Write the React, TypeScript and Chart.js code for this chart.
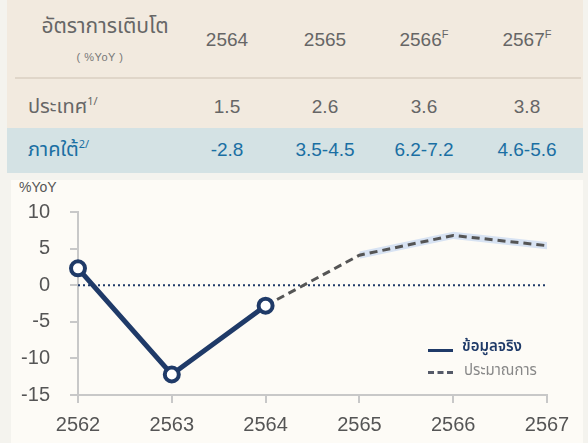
import React, { useEffect, useRef } from "react";
import { Chart, registerables } from "chart.js";

Chart.register(...registerables);

const years = ["2562", "2563", "2564", "2565", "2566", "2567"];
const actual = [2.3, -12.2, -2.8, null, null, null];
const forecast = [null, null, -2.8, 4.1, 6.8, 5.4];
const bandUpper = [null, null, null, 4.6, 7.3, 5.9];
const bandLower = [null, null, null, 3.6, 6.3, 4.9];
const zeroLine = [0, 0, 0, 0, 0, 0];
const yTicks = [10, 5, 0, -5, -10, -15];

const tableYears = ["2564", "2565", "2566", "2567"];
const tableForecastMark = [false, false, true, true];
const countryRow = ["1.5", "2.6", "3.6", "3.8"];
const southRow = ["-2.8", "3.5-4.5", "6.2-7.2", "4.6-5.6"];

const THAI = '"Noto Sans Thai", "Noto Sans Thai Looped", Loma, Garuda, "Liberation Sans", sans-serif';
const NUM = '"Liberation Sans", Arial, sans-serif';
const colX = [227, 325, 424, 527];

export default function App() {
  const ref = useRef<HTMLCanvasElement | null>(null);
  useEffect(() => {
    if (!ref.current) return;
    const chart = new Chart(ref.current, {
      type: "line",
      data: {
        labels: years,
        datasets: [
          {
            data: actual,
            borderColor: "#1f3a68",
            borderWidth: 5,
            pointRadius: 7,
            pointBorderWidth: 4,
            pointBackgroundColor: "#ffffff",
            pointBorderColor: "#1f3a68",
            fill: false,
            clip: false as any,
          },
          {
            data: forecast,
            borderColor: "#555555",
            borderWidth: 3,
            borderDash: [8, 5],
            pointRadius: 0,
            fill: false,
          },
          {
            data: zeroLine,
            borderColor: "#1f3a68",
            borderWidth: 2,
            borderDash: [2, 3],
            pointRadius: 0,
            fill: false,
          },
          {
            data: bandUpper,
            borderColor: "rgba(0,0,0,0)",
            backgroundColor: "#d8e3f3",
            pointRadius: 0,
            fill: "+1",
            borderWidth: 0,
          },
          {
            data: bandLower,
            borderColor: "rgba(0,0,0,0)",
            pointRadius: 0,
            fill: false,
            borderWidth: 0,
          },
        ],
      },
      options: {
        animation: false,
        responsive: false,
        maintainAspectRatio: false,
        layout: { padding: { left: 0, right: 41, top: 212, bottom: 0 } },
        plugins: { legend: { display: false }, tooltip: { enabled: false } },
        elements: { line: { tension: 0 } },
        scales: {
          x: {
            type: "category",
            offset: false,
            grid: { drawOnChartArea: false, drawTicks: true, tickLength: 8, color: "#c8c8c8", lineWidth: 2 },
            border: { color: "#c8c8c8", width: 2 },
            ticks: { color: "#555555", font: { family: NUM, size: 20 }, padding: 10 },
            afterFit: (s: any) => { s.height = 48; },
          },
          y: {
            min: -15,
            max: 10,
            afterBuildTicks: (s: any) => { s.ticks = yTicks.map((v) => ({ value: v })); },
            grid: { drawOnChartArea: false, drawTicks: true, tickLength: 8, color: "#c8c8c8", lineWidth: 2 },
            border: { color: "#c8c8c8", width: 2 },
            ticks: { color: "#555555", font: { family: NUM, size: 20 }, padding: 20 },
            afterFit: (s: any) => { s.width = 78; },
          },
        },
      },
    });
    return () => chart.destroy();
  }, []);

  const abs = (o: any): React.CSSProperties => ({ position: "absolute", ...o });

  return (
    <div style={abs({ left: 0, top: 0, width: 588, height: 443, background: "#f4f3ee", overflow: "hidden" })}>
      <div style={abs({ left: 7, top: 0, width: 576, height: 128, background: "#f2eadf" })} />
      <div style={abs({ left: 15, top: 77, width: 566, height: 2, background: "#e0d6c9" })} />
      <div style={abs({ left: 7, top: 128, width: 576, height: 45, background: "#d4e2e4" })} />
      <div style={abs({ left: 11, top: 180, width: 572, height: 263, background: "#fdfbf6" })} />

      <div style={abs({ left: 15, top: 13, width: 180, textAlign: "center", fontFamily: THAI, fontSize: 21, color: "#666", lineHeight: "28px" })}>อัตราการเติบโต</div>
      <div style={abs({ left: 40, top: 49, width: 120, textAlign: "center", fontFamily: NUM, fontSize: 11, color: "#777", lineHeight: "16px", letterSpacing: 0.5 })}>( %YoY )</div>
      {tableYears.map((y, i) => (
        <div key={y} style={abs({ left: colX[i] - 50, top: 28, width: 100, textAlign: "center", fontFamily: NUM, fontSize: 19, color: "#666", lineHeight: "24px" })}>
          {y}
          {tableForecastMark[i] ? <sup style={{ fontSize: 11, verticalAlign: 8, lineHeight: 0 }}>F</sup> : null}
        </div>
      ))}

      <div style={abs({ left: 28, top: 93, fontFamily: THAI, fontSize: 20, color: "#666", lineHeight: "28px" })}>
        ประเทศ<sup style={{ fontSize: 11, verticalAlign: 8, lineHeight: 0 }}>1/</sup>
      </div>
      {countryRow.map((v, i) => (
        <div key={"c" + i} style={abs({ left: colX[i] - 50, top: 95, width: 100, textAlign: "center", fontFamily: NUM, fontSize: 19, color: "#666", lineHeight: "24px" })}>{v}</div>
      ))}

      <div style={abs({ left: 28, top: 136, fontFamily: THAI, fontSize: 20, color: "#1a6fa3", lineHeight: "28px" })}>
        ภาคใต้<sup style={{ fontSize: 11, verticalAlign: 8, lineHeight: 0 }}>2/</sup>
      </div>
      {southRow.map((v, i) => (
        <div key={"s" + i} style={abs({ left: colX[i] - 60, top: 138, width: 120, textAlign: "center", fontFamily: NUM, fontSize: 19, color: "#1a6fa3", lineHeight: "24px" })}>{v}</div>
      ))}

      <div style={abs({ left: 19, top: 178, fontFamily: NUM, fontSize: 14, color: "#555", lineHeight: "18px" })}>%YoY</div>

      <canvas ref={ref} width={588} height={443} style={abs({ left: 0, top: 0, width: 588, height: 443 })} />

      <div style={abs({ left: 428, top: 349, width: 25, height: 3, background: "#1f3a68" })} />
      <div style={abs({ left: 462, top: 337, fontFamily: THAI, fontSize: 15, color: "#1f3a68", lineHeight: "20px", fontWeight: 600 })}>ข้อมูลจริง</div>
      <div style={abs({ left: 428, top: 371, width: 25, height: 0, borderTop: "3px dashed #555a68" })} />
      <div style={abs({ left: 464, top: 361, fontFamily: THAI, fontSize: 15, color: "#888", lineHeight: "20px" })}>ประมาณการ</div>
    </div>
  );
}
